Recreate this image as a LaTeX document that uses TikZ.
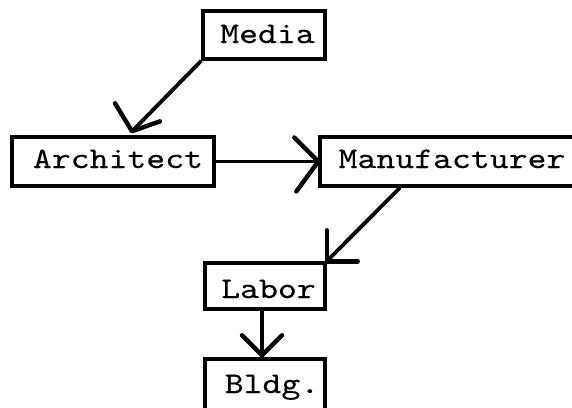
\documentclass[tikz,border=0pt]{standalone}
\usepackage{fontspec}
\usetikzlibrary{calc}
\newfontfamily\boxfont{lmmono10-regular}[Extension=.otf,FakeStretch=1.2,FakeBold=0.2]
\begin{document}
\begin{tikzpicture}[x=1pt,y=-1pt,
  box/.style={draw=black,line width=3.4pt,minimum width=#1,inner sep=0pt},
  boxh/.style={minimum height=#1},
  txt/.style={anchor=base,inner sep=0pt,font=\boxfont\fontsize{30}{30}\selectfont},
  conn/.style={line width=3.8pt},
  barb/.style={line width=4.4pt,line cap=round,line join=round}]
  \useasboundingbox (0,0) rectangle (572,407);
  \clip (0,0) rectangle (572,407);
  \fill[white] (0,0) rectangle (572,407);

  % boxes
  \node[box=122pt,boxh=48pt] (media) at (264,35) {};
  \node[box=202pt,boxh=49pt] (arch)  at (113,161.5) {};
  \node[box=280pt,boxh=49pt] (manu)  at (460,161.5) {};
  \node[box=120pt,boxh=46pt] (labor) at (265,286) {};
  \node[box=120pt,boxh=52pt] (bldg)  at (265,385) {};

  % labels
  \node[txt] (tmedia) at (267.5,43)  {Media};
  \node[txt] (tarch)  at (118,168)   {Architect};
  \node[txt] (tmanu)  at (452,168)   {Manufacturer};
  \node[txt] (tlabor) at (268.5,298) {Labor};
  \node[txt] (tbldg)  at (272,393)   {Bldg.};

  % arrow ends
  \coordinate (t1) at ([xshift=19pt,yshift=4pt]arch.north);
  \coordinate (t2) at (manu.west);
  \coordinate (t3) at (labor.north east);
  \coordinate (t4) at ([xshift=-3pt,yshift=2pt]bldg.north);

  % connectors
  \draw[conn] (media.south west) -- (t1);
  \draw[conn] (arch.east) -- (t2);
  \draw[conn] ([xshift=-60pt]manu.south) -- (t3);
  \draw[conn] ([xshift=-3pt]labor.south) -- (t4);

  % open arrowheads
  \draw[barb] ($(t1)+(-17,-28)$) -- (t1) -- ($(t1)+(28,-10)$);
  \draw[barb] ($(t2)+(-24,-24)$) -- (t2) -- ($(t2)+(-22,30)$);
  \draw[barb] ($(t3)+(0,-31)$) -- (t3) -- ($(t3)+(31,0)$);
  \draw[barb] ($(t4)+(-20,-20)$) -- (t4) -- ($(t4)+(20,-20)$);
\end{tikzpicture}
\end{document}
